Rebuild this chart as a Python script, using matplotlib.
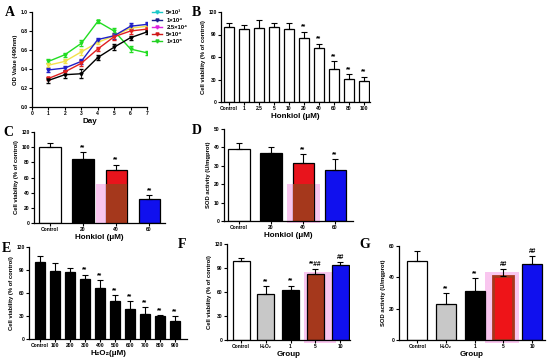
import matplotlib
matplotlib.use("Agg")
import matplotlib.pyplot as plt
from matplotlib.patches import Rectangle
from matplotlib.lines import Line2D
import numpy as np

plt.rcParams['font.family'] = ['Liberation Sans', 'DejaVu Sans']
plt.rcParams['font.weight'] = 'bold'
plt.rcParams['axes.labelweight'] = 'bold'

# ---- data ----
days = [1, 2, 3, 4, 5, 6, 7]
a_green = [0.48, 0.55, 0.67, 0.90, 0.80, 0.61, 0.57]
a_yellow = [0.44, 0.48, 0.58, 0.68, 0.75, 0.83, 0.85]
a_blue = [0.39, 0.41, 0.48, 0.71, 0.75, 0.85, 0.87]
a_red = [0.30, 0.37, 0.46, 0.61, 0.74, 0.80, 0.82]
a_black = [0.28, 0.34, 0.35, 0.52, 0.63, 0.73, 0.79]
a_err = [0.02, 0.02, 0.03, 0.02, 0.03, 0.03, 0.02]
a_err_black = [0.03, 0.04, 0.05, 0.03, 0.03, 0.02, 0.02]
legend_labels = ['5×10³', '1×10⁴', '2.5×10⁴', '5×10⁴', '1×10⁵']
legend_colors = ['#19c8c8', '#1c1c8c', '#e020e0', '#d01818', '#22d022']

b_labels = ['Control', '1', '2.5', '5', '10', '20', '40', '60', '80', '100']
b_vals = [100, 97, 99, 100, 98, 86, 72, 44, 31, 28]
b_err = [6, 6, 10, 5, 7, 8, 6, 11, 6, 6]
b_sig = ['', '', '', '', '', '**', '**', '**', '**', '**']

c_labels = ['Control', '20', '40', '60']
c_vals = [100, 85, 70, 31]
c_err = [5, 8, 7, 6]
c_sig = ['', '**', '**', '**']

d_labels = ['Control', '20', '40', '60']
d_vals = [39.3, 37.0, 31.5, 27.9]
d_err = [3.3, 3.2, 4.7, 5.8]
d_sig = ['', '', '**', '**']

e_labels = ['Control', '100', '200', '300', '400', '500', '600', '700', '800', '900']
e_vals = [100.4, 89, 87.4, 77.8, 67, 49, 39, 33, 29.6, 23.5]
e_err = [7.4, 9.7, 5.2, 6.2, 10, 8.8, 10, 8.3, 1.5, 6.5]
e_sig = ['', '', '', '**', '**', '**', '**', '**', '**', '**']

g_labels = ['Control', 'H₂O₂', '1', '5', '10']
f_vals = [99, 57, 62.7, 83, 94]
f_err = [4, 10, 5.3, 5.7, 4]
f_sig = ['', '**', '**', '**##', '##']
g_vals = [50.6, 23.1, 31.4, 41.1, 48.8]
g_err = [6.2, 6.8, 8.3, 4.5, 5.1]
g_sig = ['', '**', '**', '##', '##']

W, H = 550, 362
fig = plt.figure(figsize=(5.5, 3.62), dpi=100)
fig.patch.set_facecolor('white')

PINK = '#f9c6ef'
BROWN = '#a5381c'


def make_ax(x1, y1, x2, y2):
    ax = fig.add_axes([x1 / W, 1 - y2 / H, (x2 - x1) / W, (y2 - y1) / H])
    for s in ['top', 'right']:
        ax.spines[s].set_visible(False)
    for s in ['left', 'bottom']:
        ax.spines[s].set_linewidth(0.9)
    ax.tick_params(length=2, width=0.8, labelsize=3.6, pad=1)
    return ax


def bar_panel(ax, labels, vals, err, sig, colors, ylim, yticks, width, xlim, ylabel, xlabel, xlabsize=5.8):
    x = np.arange(len(vals))
    ax.bar(x, vals, width=width, color=colors, edgecolor='black', linewidth=0.9, zorder=2)
    ax.errorbar(x, vals, yerr=[np.zeros(len(vals)), err], fmt='none', ecolor='black',
                elinewidth=0.8, capsize=2.2, capthick=0.8, zorder=3)
    span = ylim[1] - ylim[0]
    for xi, v, e, s in zip(x, vals, err, sig):
        if s:
            ax.text(xi, v + e + span * 0.01, s, ha='center', va='bottom', fontsize=4.8, fontweight='bold')
    ax.set_xlim(*xlim)
    ax.set_ylim(*ylim)
    ax.set_yticks(yticks)
    ax.set_xticks(x)
    ax.set_xticklabels(labels)
    ax.set_ylabel(ylabel, fontsize=4.2, labelpad=2)
    ax.set_xlabel(xlabel, fontsize=xlabsize, labelpad=1.5)


# ---- A ----
axA = make_ax(32, 12, 147, 107)
for ys, col, er in [(a_green, '#22dd22', a_err), (a_yellow, '#f2e24a', a_err),
                    (a_blue, '#2020c8', a_err), (a_red, '#e02020', a_err),
                    (a_black, 'black', a_err_black)]:
    axA.errorbar(days, ys, yerr=er, color=col, lw=1.0, marker='v', ms=2.2,
                 capsize=1.2, elinewidth=0.6, ecolor=col)
axA.set_xlim(0, 7)
axA.set_ylim(0, 1.0)
axA.set_xticks(range(8))
axA.set_yticks(np.arange(0, 1.01, 0.2))
axA.set_yticklabels(['%.1f' % v for v in np.arange(0, 1.01, 0.2)])
axA.set_ylabel('OD Value (490nm)', fontsize=4.2, labelpad=2)
axA.set_xlabel('Day', fontsize=5.8, labelpad=1.5)
handles = [Line2D([0], [0], color=c, lw=1.0, marker='v', ms=2.2) for c in legend_colors]
fig.legend(handles, legend_labels, loc='upper left', bbox_to_anchor=(150 / W, 1 - 8 / H),
           fontsize=4.2, frameon=False, handlelength=1.6, labelspacing=0.35, borderaxespad=0)

# ---- B ----
axB = make_ax(221, 12, 370, 102)
bar_panel(axB, b_labels, b_vals, b_err, b_sig, 'white', (0, 120), [0, 30, 60, 90, 120],
          0.67, (-0.535, 9.4), 'Cell viability (% of control)', 'Honkiol (μM)')

# ---- C ----
axC = make_ax(34, 132, 165, 223)
axC.add_patch(Rectangle((1.39, -1), 0.97, 52.4, color=PINK, zorder=1, clip_on=False, lw=0))
bar_panel(axC, c_labels, c_vals, c_err, c_sig, ['white', 'black', '#e8141c', '#1010ee'],
          (0, 120), range(0, 121, 20), 0.64, (-0.485, 3.48), 'Cell viability (% of control)', 'Honkiol (μM)')
axC.add_patch(Rectangle((2 - 0.32, 0), 0.64, 51, facecolor=BROWN, edgecolor='none', zorder=2.5))

# ---- D ----
axD = make_ax(224, 129, 353, 221)
axD.add_patch(Rectangle((1.5, -1.1), 1.03, 21.2, color=PINK, zorder=1, clip_on=False, lw=0))
bar_panel(axD, d_labels, d_vals, d_err, d_sig, ['white', 'black', '#e8141c', '#1010ee'],
          (0, 50), range(0, 51, 10), 0.66, (-0.47, 3.56), 'SOD activity (U/mgprot)', 'Honkiol (μM)')
axD.add_patch(Rectangle((2 - 0.33, 0), 0.66, 20, facecolor=BROWN, edgecolor='none', zorder=2.5))

# ---- E ----
axE = make_ax(29, 247, 187, 339)
bar_panel(axE, e_labels, e_vals, e_err, e_sig, 'black', (0, 120), [0, 30, 60, 90, 120],
          0.67, (-0.73, 9.8), 'Cell viability (% of control)', 'H₂O₂(μM)')

# ---- F ----
axF = make_ax(227, 244, 350, 340)
axF.add_patch(Rectangle((2.54, -3.75), 1.29, 88.8, color=PINK, zorder=1, clip_on=False, lw=0))
bar_panel(axF, g_labels, f_vals, f_err, f_sig, ['white', '#c8c8c8', 'black', BROWN, '#1010ee'],
          (0, 120), [0, 30, 60, 90, 120], 0.68, (-0.57, 4.4), 'Cell viability (% of control)', 'Group')

# ---- G ----
axG = make_ax(399, 246, 545, 340)
axG.add_patch(Rectangle((2.36, -1.9), 1.17, 45.3, color=PINK, zorder=1, clip_on=False, lw=0))
bar_panel(axG, g_labels, g_vals, g_err, g_sig, ['white', '#c8c8c8', 'black', '#ee1418', '#1010ee'],
          (0, 60), [0, 20, 40, 60], 0.7, (-0.64, 4.45), 'SOD activity (U/mgprot)', 'Group')
axG.patches[-2].set_edgecolor(BROWN)
axG.patches[-2].set_linewidth(2.0)

# ---- panel letters ----
for letter, px, py in [('A', 5, 13), ('B', 192, 13), ('C', 3, 133), ('D', 192, 130),
                       ('E', 2, 248), ('F', 178, 244), ('G', 359, 244)]:
    fig.text(px / W, 1 - py / H, letter, fontsize=10, fontweight='bold',
             family='Liberation Serif', ha='left', va='center')

fig.savefig('out.png', dpi=100)
